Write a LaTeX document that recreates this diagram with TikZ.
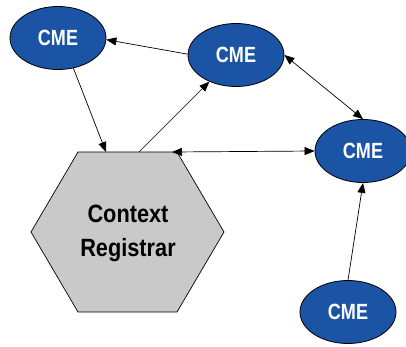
\documentclass[tikz,border=0pt]{standalone}
\usepackage{fontspec}
\usepackage{graphicx}
\setmainfont{Liberation Sans}
\usetikzlibrary{arrows.meta,shapes.geometric}
\definecolor{cmeblue}{RGB}{27,84,164}
\definecolor{reggray}{RGB}{201,201,201}
\begin{document}
\begin{tikzpicture}[x=1pt,y=-1pt,
  cme/.style={ellipse,draw=black,line width=0.8pt,fill=cmeblue,
    minimum width=96pt,minimum height=63pt,inner sep=0pt,
    text=white,font=\fontsize{22}{22}\selectfont\bfseries},
  link/.style={line width=0.7pt,-{Triangle[length=10pt,width=8pt]}},
  duplex/.style={line width=0.7pt,{Triangle[length=10pt,width=8pt]}-{Triangle[length=10pt,width=8pt]}}]
\useasboundingbox (0,0) rectangle (406,347);
% hexagonal registrar
\draw[fill=reggray,line width=0.7pt]
  (78,152) -- (177,152) -- (224,232) -- (177,312) -- (78,312) -- (31,232) -- cycle;
\node[font=\fontsize{25}{34}\selectfont\bfseries,align=center] (reg) at (128,233)
  {\scalebox{0.87}[1]{Context}\\\scalebox{0.87}[1]{Registrar}};
% attachment points on the top edge of the registrar
\coordinate (hin)  at (106,152);
\coordinate (hout) at (139,152);
\coordinate (hbi)  at (172,152);
% context managers
\node[cme] (c1) at (58,38)   {\scalebox{0.82}[1]{CME}};
\node[cme] (c2) at (236,55)  {\scalebox{0.82}[1]{CME}};
\node[cme] (c3) at (363,151) {\scalebox{0.82}[1]{CME}};
\node[cme] (c4) at (348,312) {\scalebox{0.82}[1]{CME}};
% connectors
\draw[link] (c2.179) -- (c1.358);
\draw[link] (c1.-63) -- (hin);
\draw[link] (hout) -- (c2.225);
\draw[duplex] (c2.east) -- (c3.north);
\draw[duplex] (hbi) -- (c3.west);
\draw[link] (c4.north) -- (c3.south);
\end{tikzpicture}
\end{document}
